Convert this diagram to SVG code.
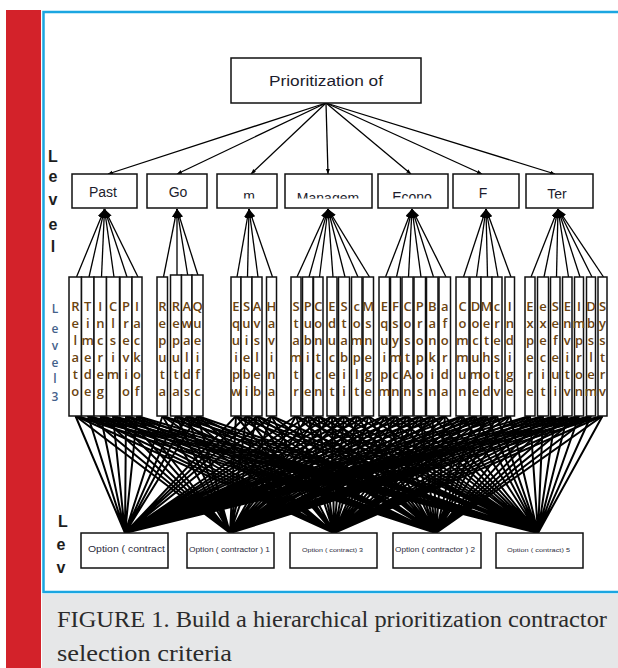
<svg xmlns="http://www.w3.org/2000/svg" width="618" height="668" viewBox="0 0 618 668">
<defs>
<style>
.bx{fill:#fff;stroke:#111;stroke-width:1.5}
.col{fill:#fff;stroke:#111;stroke-width:1.5}
.t2{font-family:"Liberation Sans",Arial,sans-serif;font-size:14px;fill:#1c1c2c;text-anchor:middle}
.c{font-family:"Open Sans","Liberation Sans",sans-serif;font-size:13px;font-weight:600;fill:#6b4410;text-anchor:middle}
.opt{font-family:"Liberation Sans",Arial,sans-serif;fill:#2a2a3a}
.lk{stroke:#000;stroke-width:2;fill:none}
.l2{stroke:#000;stroke-width:1.3;fill:none;marker-end:url(#ah)}
.l1{stroke:#000;stroke-width:1.3;fill:none;marker-end:url(#ah2)}
.lv{font-family:"Liberation Sans",Arial,sans-serif;font-weight:bold;font-size:16px;fill:#1d1d1d;text-anchor:middle}
.lv3{font-family:"Open Sans","Liberation Sans",sans-serif;font-weight:600;font-size:12px;fill:#44618a;text-anchor:middle}
.cap{font-family:"Liberation Serif","Times New Roman",serif;font-size:24px;fill:#2b2b2b}
</style>
<marker id="ah" markerUnits="userSpaceOnUse" markerWidth="10" markerHeight="8" refX="9" refY="3.5" orient="auto"><path d="M0,0 L9,3.5 L0,7 z" fill="#000"/></marker>
<marker id="ah2" markerUnits="userSpaceOnUse" markerWidth="6" markerHeight="5" refX="5" refY="2" orient="auto"><path d="M0,0 L5,2 L0,4 z" fill="#000"/></marker>
<clipPath id="l2c"><rect x="60" y="175.5" width="540" height="23"/></clipPath>
</defs>
<rect width="618" height="668" fill="#fff"/>
<rect x="6" y="10" width="35" height="658" fill="#d3222a"/>
<rect x="43.5" y="12" width="580" height="580" fill="none" stroke="#1ba6e1" stroke-width="2.5"/>
<rect x="42" y="594" width="576" height="74" fill="#e6e7e8"/>
<text class="cap" x="57" y="627" textLength="550" lengthAdjust="spacingAndGlyphs">FIGURE 1. Build a hierarchical prioritization contractor</text>
<text class="cap" x="57" y="661" textLength="175" lengthAdjust="spacingAndGlyphs">selection criteria</text>

<g id="labels">
<text class="lv" x="53" y="162">L</text>
<text class="lv" x="53" y="182">e</text>
<text class="lv" x="53" y="205">v</text>
<text class="lv" x="53" y="230">e</text>
<text class="lv" x="53" y="252">l</text>
<text class="lv3" x="55" y="313">L</text>
<text class="lv3" x="55" y="333">e</text>
<text class="lv3" x="55" y="350">v</text>
<text class="lv3" x="55" y="367">e</text>
<text class="lv3" x="55" y="383">l</text>
<text class="lv3" x="55" y="401">3</text>
<text class="lv" x="63" y="527">L</text>
<text class="lv" x="61" y="550">e</text>
<text class="lv" x="61" y="573">v</text>
</g>

<g id="connectors">
<line class="l1" x1="326" y1="103" x2="108" y2="174"/>
<line class="l1" x1="326" y1="103" x2="177" y2="174"/>
<line class="l1" x1="326" y1="103" x2="251" y2="174"/>
<line class="l1" x1="326" y1="103" x2="328" y2="174"/>
<line class="l1" x1="326" y1="103" x2="411" y2="174"/>
<line class="l1" x1="326" y1="103" x2="482" y2="174"/>
<line class="l1" x1="326" y1="103" x2="555" y2="174"/>

<line class="l2" x1="76.5" y1="277" x2="104.5" y2="209"/>
<line class="l2" x1="89" y1="277" x2="104.5" y2="209"/>
<line class="l2" x1="101.5" y1="277" x2="104.5" y2="209"/>
<line class="l2" x1="114" y1="277" x2="104.5" y2="209"/>
<line class="l2" x1="127" y1="277" x2="104.5" y2="209"/>
<line class="l2" x1="138" y1="277" x2="104.5" y2="209"/>
<line class="l2" x1="163.5" y1="277" x2="177" y2="209"/>
<line class="l2" x1="177" y1="277" x2="177" y2="209"/>
<line class="l2" x1="188" y1="277" x2="177" y2="209"/>
<line class="l2" x1="198.5" y1="277" x2="177" y2="209"/>
<line class="l2" x1="237" y1="277" x2="249" y2="209"/>
<line class="l2" x1="247.5" y1="277" x2="249" y2="209"/>
<line class="l2" x1="258" y1="277" x2="249" y2="209"/>
<line class="l2" x1="272.5" y1="277" x2="249" y2="209"/>
<line class="l2" x1="297" y1="277" x2="328" y2="209"/>
<line class="l2" x1="309" y1="277" x2="328" y2="209"/>
<line class="l2" x1="319.5" y1="277" x2="328" y2="209"/>
<line class="l2" x1="333" y1="277" x2="328" y2="209"/>
<line class="l2" x1="345" y1="277" x2="328" y2="209"/>
<line class="l2" x1="358" y1="277" x2="328" y2="209"/>
<line class="l2" x1="369.5" y1="277" x2="328" y2="209"/>
<line class="l2" x1="385.5" y1="277" x2="412" y2="209"/>
<line class="l2" x1="396.5" y1="277" x2="412" y2="209"/>
<line class="l2" x1="408.5" y1="277" x2="412" y2="209"/>
<line class="l2" x1="421" y1="277" x2="412" y2="209"/>
<line class="l2" x1="433.5" y1="277" x2="412" y2="209"/>
<line class="l2" x1="446" y1="277" x2="412" y2="209"/>
<line class="l2" x1="463.5" y1="277" x2="486" y2="209"/>
<line class="l2" x1="476.5" y1="277" x2="486" y2="209"/>
<line class="l2" x1="487.5" y1="277" x2="486" y2="209"/>
<line class="l2" x1="498" y1="277" x2="486" y2="209"/>
<line class="l2" x1="511" y1="277" x2="486" y2="209"/>
<line class="l2" x1="531" y1="277" x2="558" y2="209"/>
<line class="l2" x1="544" y1="277" x2="558" y2="209"/>
<line class="l2" x1="556.5" y1="277" x2="558" y2="209"/>
<line class="l2" x1="568.5" y1="277" x2="558" y2="209"/>
<line class="l2" x1="580" y1="277" x2="558" y2="209"/>
<line class="l2" x1="592" y1="277" x2="558" y2="209"/>
<line class="l2" x1="603.5" y1="277" x2="558" y2="209"/>

<path class="lk" d="M75.5 416L125 533M88 416L125 533M100.5 416L125 533M113 416L125 533M126 416L125 533M137 416L125 533M162.5 416L125 533M176 416L125 533M187 416L125 533M197.5 416L125 533M236 416L125 533M246.5 416L125 533M257 416L125 533M271.5 416L125 533M296 416L125 533M308 416L125 533M318.5 416L125 533M332 416L125 533M344 416L125 533M357 416L125 533M368.5 416L125 533M384.5 416L125 533M395.5 416L125 533M407.5 416L125 533M420 416L125 533M432.5 416L125 533M445 416L125 533M462.5 416L125 533M475.5 416L125 533M486.5 416L125 533M497 416L125 533M510 416L125 533M530 416L125 533M543 416L125 533M555.5 416L125 533M567.5 416L125 533M579 416L125 533M591 416L125 533M602.5 416L125 533"/>
<path class="lk" d="M75.5 416L230 533M88 416L230 533M100.5 416L230 533M113 416L230 533M126 416L230 533M137 416L230 533M162.5 416L230 533M176 416L230 533M187 416L230 533M197.5 416L230 533M236 416L230 533M246.5 416L230 533M257 416L230 533M271.5 416L230 533M296 416L230 533M308 416L230 533M318.5 416L230 533M332 416L230 533M344 416L230 533M357 416L230 533M368.5 416L230 533M384.5 416L230 533M395.5 416L230 533M407.5 416L230 533M420 416L230 533M432.5 416L230 533M445 416L230 533M462.5 416L230 533M475.5 416L230 533M486.5 416L230 533M497 416L230 533M510 416L230 533M530 416L230 533M543 416L230 533M555.5 416L230 533M567.5 416L230 533M579 416L230 533M591 416L230 533M602.5 416L230 533"/>
<path class="lk" d="M75.5 416L334 533M88 416L334 533M100.5 416L334 533M113 416L334 533M126 416L334 533M137 416L334 533M162.5 416L334 533M176 416L334 533M187 416L334 533M197.5 416L334 533M236 416L334 533M246.5 416L334 533M257 416L334 533M271.5 416L334 533M296 416L334 533M308 416L334 533M318.5 416L334 533M332 416L334 533M344 416L334 533M357 416L334 533M368.5 416L334 533M384.5 416L334 533M395.5 416L334 533M407.5 416L334 533M420 416L334 533M432.5 416L334 533M445 416L334 533M462.5 416L334 533M475.5 416L334 533M486.5 416L334 533M497 416L334 533M510 416L334 533M530 416L334 533M543 416L334 533M555.5 416L334 533M567.5 416L334 533M579 416L334 533M591 416L334 533M602.5 416L334 533"/>
<path class="lk" d="M75.5 416L436 533M88 416L436 533M100.5 416L436 533M113 416L436 533M126 416L436 533M137 416L436 533M162.5 416L436 533M176 416L436 533M187 416L436 533M197.5 416L436 533M236 416L436 533M246.5 416L436 533M257 416L436 533M271.5 416L436 533M296 416L436 533M308 416L436 533M318.5 416L436 533M332 416L436 533M344 416L436 533M357 416L436 533M368.5 416L436 533M384.5 416L436 533M395.5 416L436 533M407.5 416L436 533M420 416L436 533M432.5 416L436 533M445 416L436 533M462.5 416L436 533M475.5 416L436 533M486.5 416L436 533M497 416L436 533M510 416L436 533M530 416L436 533M543 416L436 533M555.5 416L436 533M567.5 416L436 533M579 416L436 533M591 416L436 533M602.5 416L436 533"/>
<path class="lk" d="M75.5 416L538 533M88 416L538 533M100.5 416L538 533M113 416L538 533M126 416L538 533M137 416L538 533M162.5 416L538 533M176 416L538 533M187 416L538 533M197.5 416L538 533M236 416L538 533M246.5 416L538 533M257 416L538 533M271.5 416L538 533M296 416L538 533M308 416L538 533M318.5 416L538 533M332 416L538 533M344 416L538 533M357 416L538 533M368.5 416L538 533M384.5 416L538 533M395.5 416L538 533M407.5 416L538 533M420 416L538 533M432.5 416L538 533M445 416L538 533M462.5 416L538 533M475.5 416L538 533M486.5 416L538 533M497 416L538 533M510 416L538 533M530 416L538 533M543 416L538 533M555.5 416L538 533M567.5 416L538 533M579 416L538 533M591 416L538 533M602.5 416L538 533"/>
</g>

<g id="goal"><rect class="bx" x="231" y="58" width="190" height="45"/><text class="t2" x="326" y="86" font-size="16" textLength="114" lengthAdjust="spacingAndGlyphs">Prioritization of</text></g>

<g id="n-past"><rect class="bx" x="72" y="174" width="65" height="34"/><text class="t2" x="103" y="197" clip-path="url(#l2c)">Past</text></g>
<g id="n-go"><rect class="bx" x="147" y="174" width="60" height="34"/><text class="t2" x="178" y="197" clip-path="url(#l2c)">Go</text></g>
<g id="n-m"><rect class="bx" x="217" y="174" width="60" height="34"/><text class="t2" x="249" y="201" clip-path="url(#l2c)">m</text></g>
<g id="n-manage"><rect class="bx" x="285" y="174" width="87" height="34"/><text class="t2" x="328" y="203" clip-path="url(#l2c)">Managem</text></g>
<g id="n-econo"><rect class="bx" x="378" y="174" width="70" height="34"/><text class="t2" x="412" y="202" clip-path="url(#l2c)">Econo</text></g>
<g id="n-f"><rect class="bx" x="453" y="174" width="66" height="34"/><text class="t2" x="483" y="198" font-size="21" clip-path="url(#l2c)">F</text></g>
<g id="n-ter"><rect class="bx" x="526" y="174" width="67" height="34"/><text class="t2" x="557" y="198.5" clip-path="url(#l2c)">Ter</text></g>

<g id="c1"><rect class="col" x="69" y="277" width="12.5" height="139"/><text class="c" x="75.3 75.3 75.3 75.3 75.3 75.3" y="311 328 345 362 379 396">Relato</text></g>
<g id="c2"><rect class="col" x="81.5" y="277" width="12.5" height="139"/><text class="c" x="87.8 87.8 87.8 87.8 87.8 87.8" y="311 328 345 362 379 396">Timede</text></g>
<g id="c3"><rect class="col" x="94" y="277" width="12.5" height="139"/><text class="c" x="100.3 100.3 100.3 100.3 100.3 100.3" y="311 328 345 362 379 396">Increg</text></g>
<g id="c4"><rect class="col" x="106.5" y="277" width="13" height="139"/><text class="c" x="113 113 113 113 113" y="311 328 345 362 379">Clsim</text></g>
<g id="c5"><rect class="col" x="120" y="277" width="12" height="139"/><text class="c" x="126 126 126 126 126 126" y="311 328 345 362 379 396">Previo</text></g>
<g id="c6"><rect class="col" x="132" y="277" width="10" height="139"/><text class="c" x="137 137 137 137 137 137" y="311 328 345 362 379 396">Iackof</text></g>
<g id="c7"><rect class="col" x="157" y="277" width="10.5" height="139"/><text class="c" x="162.3 162.3 162.3 162.3 162.3 162.3" y="311 328 345 362 379 396">Reputa</text></g>
<g id="c8"><rect class="col" x="170.5" y="275" width="11" height="141"/><text class="c" x="176 176 176 176 176 176" y="311 328 345 362 379 396">Reputa</text></g>
<g id="c9"><rect class="col" x="181.5" y="275" width="10.5" height="141"/><text class="c" x="186.8 186.8 186.8 186.8 186.8 186.8" y="311 328 345 362 379 396">Awalds</text></g>
<g id="c10"><rect class="col" x="192" y="275" width="11" height="141"/><text class="c" x="197.5 197.5 197.5 197.5 197.5 197.5" y="311 328 345 362 379 396">Queifc</text></g>
<g id="c11"><rect class="col" x="231" y="277" width="10" height="139"/><text class="c" x="236 236 236 236 236 236" y="311 328 345 362 379 396">Equipw</text></g>
<g id="c12"><rect class="col" x="241" y="277" width="11" height="139"/><text class="c" x="246.5 246.5 246.5 246.5 246.5 246.5" y="311 328 345 362 379 396">Suiebi</text></g>
<g id="c13"><rect class="col" x="252" y="277" width="10" height="139"/><text class="c" x="257 257 257 257 257 257" y="311 328 345 362 379 396">Avsleb</text></g>
<g id="c14"><rect class="col" x="266.5" y="277" width="10" height="139"/><text class="c" x="271.5 271.5 271.5 271.5 271.5 271.5" y="311 328 345 362 379 396">Havina</text></g>
<g id="c15"><rect class="col" x="291" y="277" width="10" height="139"/><text class="c" x="296 296 296 296 296 296" y="311 328 345 362 379 396">Stamtr</text></g>
<g id="c16"><rect class="col" x="302.5" y="277" width="10.5" height="139"/><text class="c" x="307.8 307.8 307.8 307.8 307.8" y="311 328 345 362 396">Pubie</text></g>
<g id="c17"><rect class="col" x="313.5" y="277" width="9.5" height="139"/><text class="c" x="318.3 318.3 318.3 318.3 318.3 318.3" y="311 328 345 362 379 396">Contcn</text></g>
<g id="c18"><rect class="col" x="327" y="277" width="10" height="139"/><text class="c" x="332 332 332 332 332 332" y="311 328 345 362 379 396">Educet</text></g>
<g id="c19"><rect class="col" x="338.5" y="277" width="11" height="139"/><text class="c" x="344 344 344 344 344 344" y="311 328 345 362 379 396">Stabii</text></g>
<g id="c20"><rect class="col" x="351.5" y="277" width="10.5" height="139"/><text class="c" x="356.8 356.8 356.8 356.8 356.8 356.8" y="311 328 345 362 379 396">complt</text></g>
<g id="c21"><rect class="col" x="363" y="277" width="10.5" height="139"/><text class="c" x="368.3 368.3 368.3 368.3 368.3 368.3" y="311 328 345 362 379 396">Msnege</text></g>
<g id="c22"><rect class="col" x="379" y="277" width="10.5" height="139"/><text class="c" x="384.3 384.3 384.3 384.3 384.3 384.3" y="311 328 345 362 379 396">Equipm</text></g>
<g id="c23"><rect class="col" x="390.5" y="277" width="10" height="139"/><text class="c" x="395.5 395.5 395.5 395.5 395.5 395.5" y="311 328 345 362 379 396">Fsymcn</text></g>
<g id="c24"><rect class="col" x="402" y="277" width="11" height="139"/><text class="c" x="407.5 407.5 407.5 407.5 407.5 407.5" y="311 328 345 362 379 396">CostAn</text></g>
<g id="c25"><rect class="col" x="414" y="277" width="11.5" height="139"/><text class="c" x="419.8 419.8 419.8 419.8 419.8 419.8" y="311 328 345 362 379 396">Propos</text></g>
<g id="c26"><rect class="col" x="426.5" y="277" width="11.5" height="139"/><text class="c" x="432.3 432.3 432.3 432.3 432.3 432.3" y="311 328 345 362 379 396">Bankin</text></g>
<g id="c27"><rect class="col" x="439" y="277" width="11.5" height="139"/><text class="c" x="444.8 444.8 444.8 444.8 444.8 444.8" y="311 328 345 362 379 396">aforda</text></g>
<g id="c28"><rect class="col" x="456" y="277" width="13" height="139"/><text class="c" x="462.5 462.5 462.5 462.5 462.5 462.5" y="311 328 345 362 379 396">Commun</text></g>
<g id="c29"><rect class="col" x="470" y="277" width="11" height="139"/><text class="c" x="475.5 475.5 475.5 475.5 475.5 475.5" y="311 328 345 362 379 396">Docume</text></g>
<g id="c30"><rect class="col" x="481" y="277" width="11" height="139"/><text class="c" x="486.5 486.5 486.5 486.5 486.5 486.5" y="311 328 345 362 379 396">Method</text></g>
<g id="c31"><rect class="col" x="492" y="277" width="10" height="139"/><text class="c" x="497 497 497 497 497 497" y="311 328 345 362 379 396">crestv</text></g>
<g id="c32"><rect class="col" x="505" y="277" width="9.5" height="139"/><text class="c" x="509.8 509.8 509.8 509.8 509.8 509.8" y="311 328 345 362 379 396">Indige</text></g>
<g id="c33"><rect class="col" x="525" y="277" width="10" height="139"/><text class="c" x="530 530 530 530 530 530" y="311 328 345 362 379 396">Expere</text></g>
<g id="c34"><rect class="col" x="537.5" y="277" width="11" height="139"/><text class="c" x="543 543 543 543 543 543" y="311 328 345 362 379 396">execit</text></g>
<g id="c35"><rect class="col" x="550.5" y="277" width="9.5" height="139"/><text class="c" x="555.3 555.3 555.3 555.3 555.3 555.3" y="311 328 345 362 379 396">Sefeui</text></g>
<g id="c36"><rect class="col" x="562.5" y="277" width="9.5" height="139"/><text class="c" x="567.3 567.3 567.3 567.3 567.3 567.3" y="311 328 345 362 379 396">Envitv</text></g>
<g id="c37"><rect class="col" x="574.5" y="277" width="9" height="139"/><text class="c" x="579 579 579 579 579 579" y="311 328 345 362 379 396">Impron</text></g>
<g id="c38"><rect class="col" x="586.5" y="277" width="9" height="139"/><text class="c" x="591 591 591 591 591 591" y="311 328 345 362 379 396">Dbslem</text></g>
<g id="c39"><rect class="col" x="598" y="277" width="9" height="139"/><text class="c" x="602.5 602.5 602.5 602.5 602.5 602.5" y="311 328 345 362 379 396">Systrv</text></g>

<g id="o1"><rect class="bx" x="81" y="533" width="87" height="35"/><text class="opt" x="88" y="552" font-size="9.5" textLength="77" lengthAdjust="spacingAndGlyphs">Option ( contract</text></g>
<g id="o2"><rect class="bx" x="187" y="533" width="87" height="35"/><text class="opt" x="189" y="552" font-size="6.5" textLength="81" lengthAdjust="spacingAndGlyphs">Option ( contractor ) 1</text></g>
<g id="o3"><rect class="bx" x="290" y="533" width="87" height="35"/><text class="opt" x="302" y="552" font-size="6" textLength="61" lengthAdjust="spacingAndGlyphs">Option ( contract) 3</text></g>
<g id="o4"><rect class="bx" x="393" y="533" width="88" height="35"/><text class="opt" x="395" y="552" font-size="6.5" textLength="80" lengthAdjust="spacingAndGlyphs">Option ( contractor ) 2</text></g>
<g id="o5"><rect class="bx" x="496" y="533" width="87" height="35"/><text class="opt" x="507" y="552" font-size="6" textLength="63" lengthAdjust="spacingAndGlyphs">Option ( contract) 5</text></g>
</svg>
